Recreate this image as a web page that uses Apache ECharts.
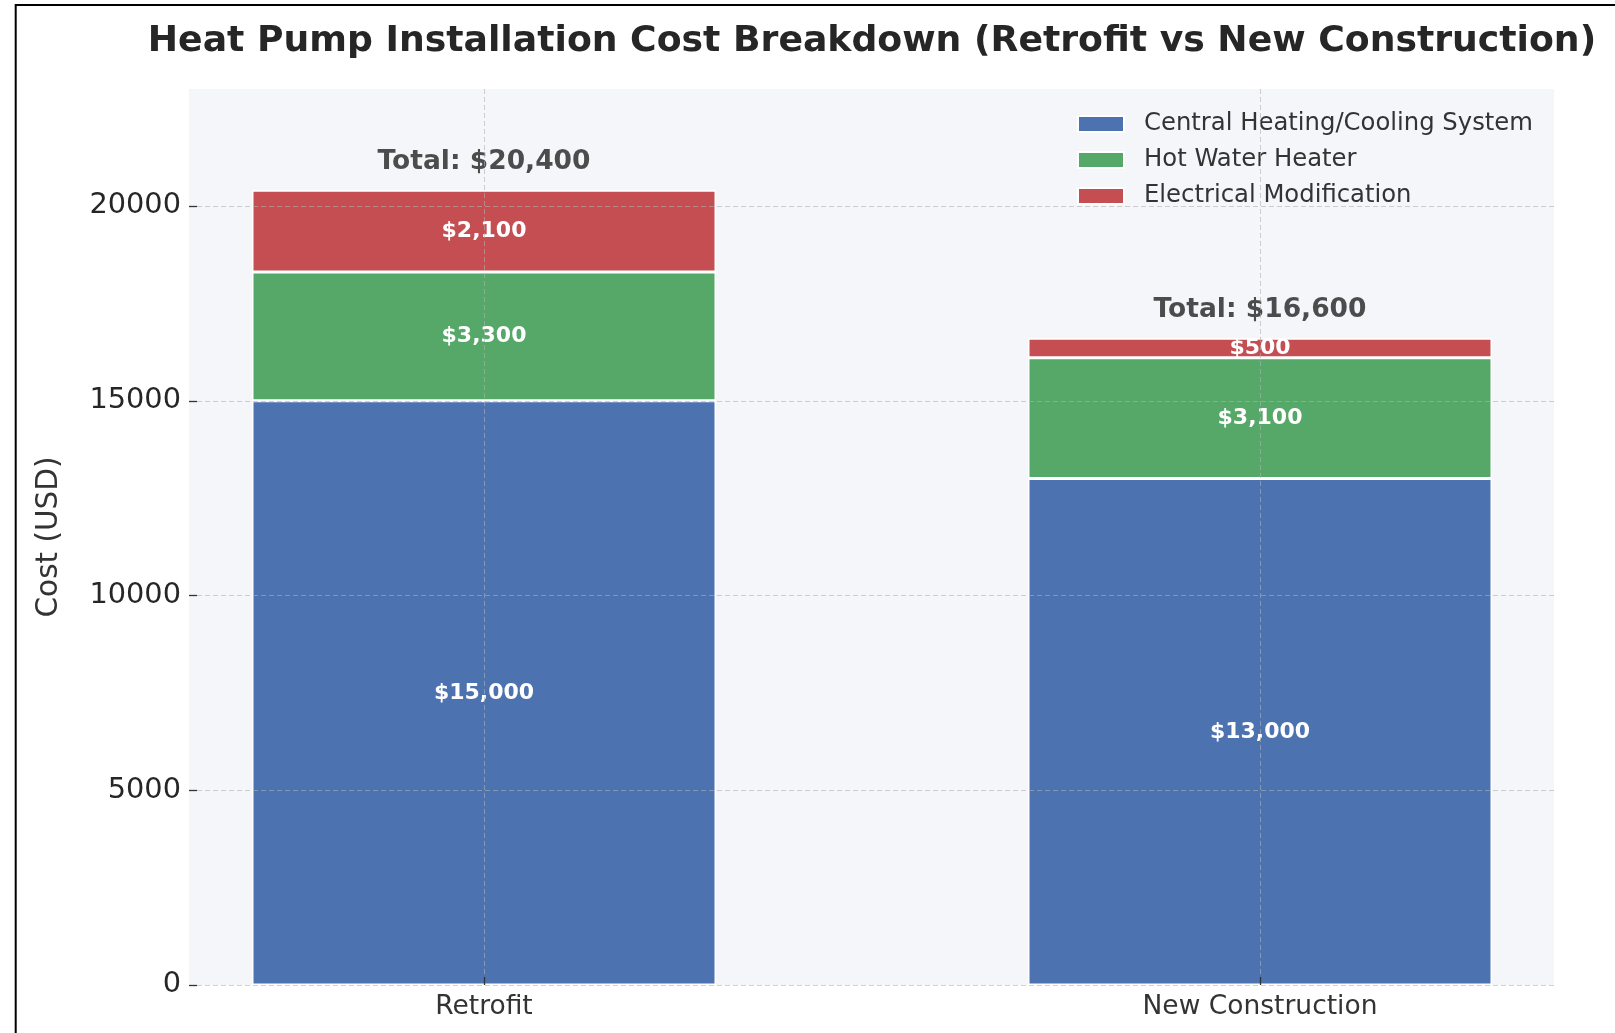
<!DOCTYPE html>
<html>
<head>
<meta charset="utf-8">
<title>Heat Pump Installation Cost Breakdown</title>
<script src="https://cdn.jsdelivr.net/npm/echarts@6/dist/echarts.min.js"></script>
<style>
  html, body { margin: 0; padding: 0; background: #fff; }
  #chart { width: 1615px; height: 1033px; }
</style>
</head>
<body>
<div id="chart"></div>
<script>
// data
const categories = ["Retrofit", "New Construction"];
const centralSystem = [15000, 13000];
const hotWater = [3300, 3100];
const electrical = [2100, 500];
const seriesNames = ["Central Heating/Cooling System", "Hot Water Heater", "Electrical Modification"];
const yTickStep = 5000;

const totals = categories.map((c, i) => centralSystem[i] + hotWater[i] + electrical[i]);

const money = v => "$" + Number(v).toLocaleString("en-US");
const font = "DejaVu Sans";
const gridLine = { show: true, lineStyle: { color: "rgba(176,176,176,0.6)", type: [5, 3], width: 1 } };

// label inside each stacked block
const innerLabel = {
  show: true,
  position: "inside",
  color: "#fff",
  fontWeight: "bold",
  fontSize: 22,
  fontFamily: font,
  formatter: p => money(p.value)
};

function barSeries(name, data, color) {
  return {
    name: name,
    type: "bar",
    stack: "cost",
    xAxisIndex: 2,
    yAxisIndex: 2,
    barWidth: 464,
    clip: false,
    data: data,
    itemStyle: { color: color, borderColor: "#fff", borderWidth: 1.5 },
    label: innerLabel
  };
}

const chart = echarts.init(document.getElementById("chart"));

const option = {
  animation: false,
  textStyle: { fontFamily: font },
  title: {
    text: "Heat Pump Installation Cost Breakdown (Retrofit vs New Construction)",
    left: 867,
    top: 19,
    textAlign: "center",
    textStyle: { fontSize: 36.2, fontWeight: "bold", color: "#262626", fontFamily: font }
  },
  legend: {
    data: seriesNames,
    orient: "vertical",
    left: 1072,
    top: 107,
    itemWidth: 46,
    itemHeight: 16,
    itemGap: 12,
    icon: "rect",
    textStyle: { fontSize: 24.3, color: "#333", lineHeight: 24, padding: [0, 0, 0, 15], fontFamily: font }
  },
  // frame line on the left and top edge
  graphic: [{
    type: "rect",
    shape: { x: 15.7, y: 5, width: 1700, height: 1100 },
    style: { fill: "none", stroke: "#000", lineWidth: 2 },
    silent: true
  }],
  grid: [
    // plot background
    { left: 189, top: 89, width: 1365, height: 896, show: true, backgroundColor: "#f5f6fa", borderWidth: 0 },
    // y ticks and horizontal grid lines
    { left: 189, top: 206, width: 1365, height: 779 },
    // bars
    { left: 484, top: 89, width: 776, height: 896 }
  ],
  xAxis: [
    { gridIndex: 0, type: "value", show: false },
    { gridIndex: 1, type: "value", show: false },
    {
      gridIndex: 2,
      type: "category",
      data: categories,
      boundaryGap: false,
      z: 5,
      axisLine: { show: false },
      axisTick: { show: true, inside: true, length: 8, lineStyle: { color: "#333", width: 1.3 } },
      axisLabel: { margin: 9, fontSize: 26.5, color: "#333", fontFamily: font },
      splitLine: gridLine
    }
  ],
  yAxis: [
    {
      gridIndex: 0,
      type: "value",
      name: "Cost (USD)",
      nameLocation: "middle",
      nameGap: 125,
      nameTextStyle: { fontSize: 29.5, color: "#333", fontFamily: font },
      axisLine: { show: false },
      axisTick: { show: false },
      axisLabel: { show: false },
      splitLine: { show: false }
    },
    {
      gridIndex: 1,
      type: "value",
      min: 0,
      max: 20000,
      interval: yTickStep,
      z: 5,
      axisLine: { show: false },
      axisTick: { show: true, inside: true, length: 8, lineStyle: { color: "#333", width: 1.3 } },
      axisLabel: { margin: 8, fontSize: 28.8, color: "#262626", fontFamily: font, formatter: v => String(v) },
      splitLine: gridLine
    },
    { gridIndex: 2, type: "value", min: 0, max: 23000, show: false }
  ],
  series: [
    barSeries(seriesNames[0], centralSystem, "#4c72b0"),
    barSeries(seriesNames[1], hotWater, "#55a868"),
    barSeries(seriesNames[2], electrical, "#c44e52"),
    {
      name: "Total",
      type: "scatter",
      xAxisIndex: 2,
      yAxisIndex: 2,
      symbolSize: 0,
      data: totals,
      label: {
        show: true,
        position: "top",
        distance: 15,
        color: "#222",
        fontWeight: "bold",
        fontSize: 26.5,
        fontFamily: font,
        formatter: p => "Total: " + money(p.value)
      }
    }
  ]
};

chart.setOption(option);
</script>
</body>
</html>
